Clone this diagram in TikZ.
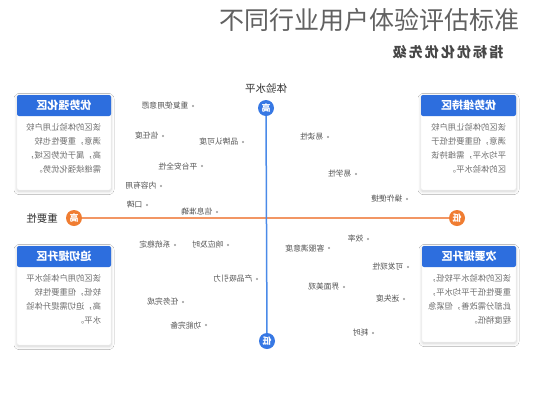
\documentclass[tikz,border=0pt]{standalone}
\usepackage{fontspec}
\usepackage{graphicx}
\setmainfont{Noto Sans CJK SC}
\usetikzlibrary{positioning,shadows.blur}
\definecolor{hdrblue}{RGB}{45,110,222}
\definecolor{axblue}{RGB}{74,138,232}
\definecolor{circblue}{RGB}{55,120,228}
\definecolor{axorange}{RGB}{242,150,100}
\definecolor{circorange}{RGB}{240,125,50}
\definecolor{lblgray}{RGB}{85,85,85}
\definecolor{bodygray}{RGB}{110,110,110}
\newcommand{\mir}[1]{\reflectbox{#1}}
\newcommand{\bodyblock}[2]{\mir{\parbox{#1}{\fontsize{8.3}{14}\selectfont #2}}}
\begin{document}
\begin{tikzpicture}[x=1pt,y=-1pt,
  cardbody/.style={draw=black!6, fill=white, rounded corners=2pt, inner sep=0,
    blur shadow={shadow blur steps=8, shadow xshift=0pt, shadow yshift=-1.5pt, shadow opacity=18, shadow blur radius=3pt}},
  cardhead/.style={fill=hdrblue, rounded corners=2pt, inner sep=0, text=white,
    font=\fontsize{11}{13}\selectfont\bfseries},
  bodytxt/.style={inner sep=0, text=bodygray},
  pt/.style={circle, fill=black!40, inner sep=0, minimum size=2.4pt},
  lbl/.style={inner sep=0, text=lblgray, font=\fontsize{7.8}{9}\selectfont},
  circ/.style={circle, inner sep=0, minimum size=16pt, text=white, font=\fontsize{9}{10}\selectfont\bfseries},
  axlbl/.style={inner sep=0, text=black!80, font=\fontsize{10.5}{12}\selectfont}
]
\useasboundingbox[fill=white] (0,0) rectangle (533,400);

% title
\node[anchor=west, inner sep=0, text=black!62, font=\fontsize{25}{28}\selectfont] (title) at (219,20) {不同行业用户体验评估标准};
\node[inner sep=0, text=black!72, font=\fontsize{14}{16}\selectfont\bfseries] (sub) at (448,52) {\mir{\addfontfeatures{LetterSpace=15}指标优化优先级}};

% cards
\node[cardbody, minimum width=94pt, minimum height=95pt] (c1) at (64,142.5) {};
\node[cardhead, minimum width=94pt, minimum height=21pt] (h1) at (64,105.5) {\mir{优势强化区}};
\node[bodytxt] (t1) at (63,148) {\bodyblock{76pt}{该区的体验让用户较\\满意，重要性也较\\高，属于优势区域，\\需继续强化优势。}};

\node[cardbody, minimum width=95pt, minimum height=95pt] (c2) at (468.5,142.5) {};
\node[cardhead, minimum width=95pt, minimum height=21pt] (h2) at (468.5,105.5) {\mir{优势维持区}};
\node[bodytxt] (t2) at (468,148) {\bodyblock{76pt}{该区的体验让用户较\\满意，但重要性低于\\平均水平，需维持该\\区的体验水平。}};

\node[cardbody, minimum width=94pt, minimum height=99pt] (c3) at (64,295.5) {};
\node[cardhead, minimum width=94pt, minimum height=21pt] (h3) at (64,256.5) {\mir{迫切提升区}};
\node[bodytxt] (t3) at (63,299) {\bodyblock{76pt}{该区的用户体验水平\\较低，但重要性较\\高，迫切需提升体验\\水平。}};

\node[cardbody, minimum width=94pt, minimum height=96pt] (c4) at (469,294) {};
\node[cardhead, minimum width=94pt, minimum height=21pt] (h4) at (469,256.5) {\mir{次要提升区}};
\node[bodytxt] (t4) at (469,299) {\bodyblock{84pt}{该区的体验水平较低，\\重要性低于平均水平，\\此部分需改善，但紧急\\程度稍低。}};

% axes
\node[circ, fill=circblue] (topc) at (266,108) {\mir{高}};
\node[circ, fill=circblue] (botc) at (267,341) {\mir{低}};
\node[circ, fill=circorange] (leftc) at (74,218) {\mir{高}};
\node[circ, fill=circorange] (rightc) at (457,218) {\mir{低}};
\draw[axorange, line width=1.2pt] (leftc) -- (rightc);
\draw[axblue, line width=1.5pt] (topc) -- (botc);
\node[axlbl] (ylab) at (266,88) {\mir{体验水平}};
\node[axlbl] (xlab) at (42,219) {\mir{重要性}};

% points
\foreach \i/\x/\y/\t in {
  1/193/106/重复使用意愿, 2/163/136/信任度, 3/243/142/品牌认可度, 4/202/166/平台安全性,
  5/161/186/内容有用, 6/147/205/口碑, 7/217/212/信息准确,
  8/328/137/易读性, 9/356/174/易学性, 10/407/199/操作便捷,
  11/175/245/系统稳定, 12/228/245/响应及时, 13/257/279/产品吸引力,
  14/183/302/任务完成, 15/206/325/功能完备,
  16/368/239/效率, 17/329/248/客服满意度, 18/408/267/可发现性,
  19/344/287/界面美观, 20/404/299/迷失度, 21/373/333/耗时}
{
  \node[pt] (p\i) at (\x,\y) {};
  \node[lbl, left=3pt of p\i] (l\i) {\mir{\t}};
}
\end{tikzpicture}
\end{document}
